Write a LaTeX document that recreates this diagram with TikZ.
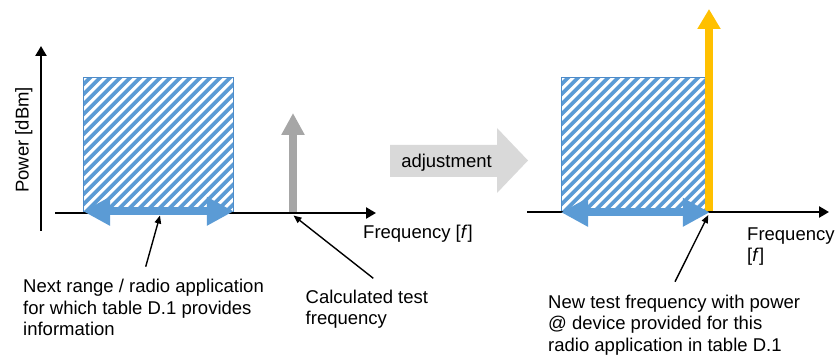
\documentclass[tikz,border=0pt]{standalone}
\usepackage{fontspec}
\setmainfont{Liberation Sans}
\usetikzlibrary{arrows.meta,calc}
\definecolor{hblue}{HTML}{5B9BD5}
\definecolor{hborder}{HTML}{4F8CC9}
\definecolor{agray}{HTML}{A6A6A6}
\definecolor{adjgray}{HTML}{D9D9D9}
\definecolor{orng}{HTML}{FFC000}
\begin{document}
\begin{tikzpicture}[x=1pt,y=-1pt,
  axisline/.style={line width=2.6pt, -{Triangle[length=10pt,width=11pt]}},
  bandarrow/.style={hblue, line width=8pt, {Triangle[length=27pt,width=27pt]}-{Triangle[length=27pt,width=27pt]}},
  pointer/.style={line width=1.4pt, -{Triangle[length=8pt,width=6.5pt]}},
  txt/.style={font=\fontsize{18.5}{21.3}\selectfont, inner sep=0pt, align=left, anchor=north west},
  stripe/.style={hblue, line width=3.7pt},
  band/.style={draw=hborder, line width=0.8pt, anchor=north west, inner sep=0pt, fill=white,
    path picture={\foreach \i in {-16,...,18}
      \draw[stripe] ($(path picture bounding box.south west)+(\i*10,2)$) -- ++(170,-170);}},
  ]
\useasboundingbox (0,0) rectangle (837,355);

% ---------- left panel ----------
\node[band, minimum width=150pt, minimum height=135pt] (band1) at (83,77) {};
\coordinate (calc) at (293,213);
\coordinate (calctop) at (293,113);
\draw[agray, line width=8pt, -{Triangle[length=22pt,width=22pt]}] (calc) -- (calctop);
\coordinate (yb) at (41,231);
\coordinate (yt) at (41,46);
\draw[axisline] (yb) -- (yt);
\coordinate (xl) at (55,213);
\coordinate (xr) at (376,213);
\draw[axisline] (xl) -- (xr);
\draw[bandarrow] ([yshift=1.5pt]band1.south west) -- ([yshift=1.5pt]band1.south east);

\node[font=\fontsize{18.5}{21.3}\selectfont, rotate=90, anchor=base, inner sep=0pt] (power) at (28.5,140) {Power [dBm]};
\node[txt] (freq1) at (363,225) {Frequency [\textit{f}]};

\node[txt] (range) at (23,279.3) {Next range / radio application\\for which table D.1 provides\\information};
\coordinate (rangeptr) at (145.7,266.7);
\coordinate (rangetip) at (160,215.5);
\draw[pointer] (rangeptr) -- (rangetip);

\node[txt] (calctxt) at (305.5,290) {Calculated test\\frequency};
\coordinate (calcptr) at (373.3,278.3);
\coordinate (calctip) at (293.5,215.5);
\draw[pointer] (calcptr) -- (calctip);

% ---------- adjustment arrow ----------
\fill[adjgray] (390,145) -- (497,145) -- (497,128) -- (528,160.5) -- (497,193) -- (497,177) -- (390,177) -- cycle;
\node[font=\fontsize{18.5}{21.3}\selectfont, anchor=base, inner sep=0pt] (adj) at (446.5,167.5) {adjustment};

% ---------- right panel ----------
\node[band, minimum width=146pt, minimum height=135pt] (band2) at (561,77) {};
\coordinate (newf) at (709,212);
\coordinate (newftop) at (709,9);
\draw[orng, line width=8pt, -{Triangle[length=20pt,width=22pt]}] (newf) -- (newftop);
\coordinate (xl2) at (527,212);
\coordinate (xr2) at (829,212);
\draw[axisline] (xl2) -- (xr2);
\draw[bandarrow] ([yshift=0.5pt]band2.south west) -- ([yshift=0.5pt,xshift=2pt]band2.south east);

\node[txt] (freq2) at (747,227.7) {Frequency\\{}[\textit{f}]};

\node[txt] (newtxt) at (548,295) {New test frequency with power\\@ device provided for this\\radio application in table D.1};
\coordinate (newptr) at (675,281.7);
\coordinate (newtip) at (708.3,215);
\draw[pointer] (newptr) -- (newtip);
\end{tikzpicture}
\end{document}
